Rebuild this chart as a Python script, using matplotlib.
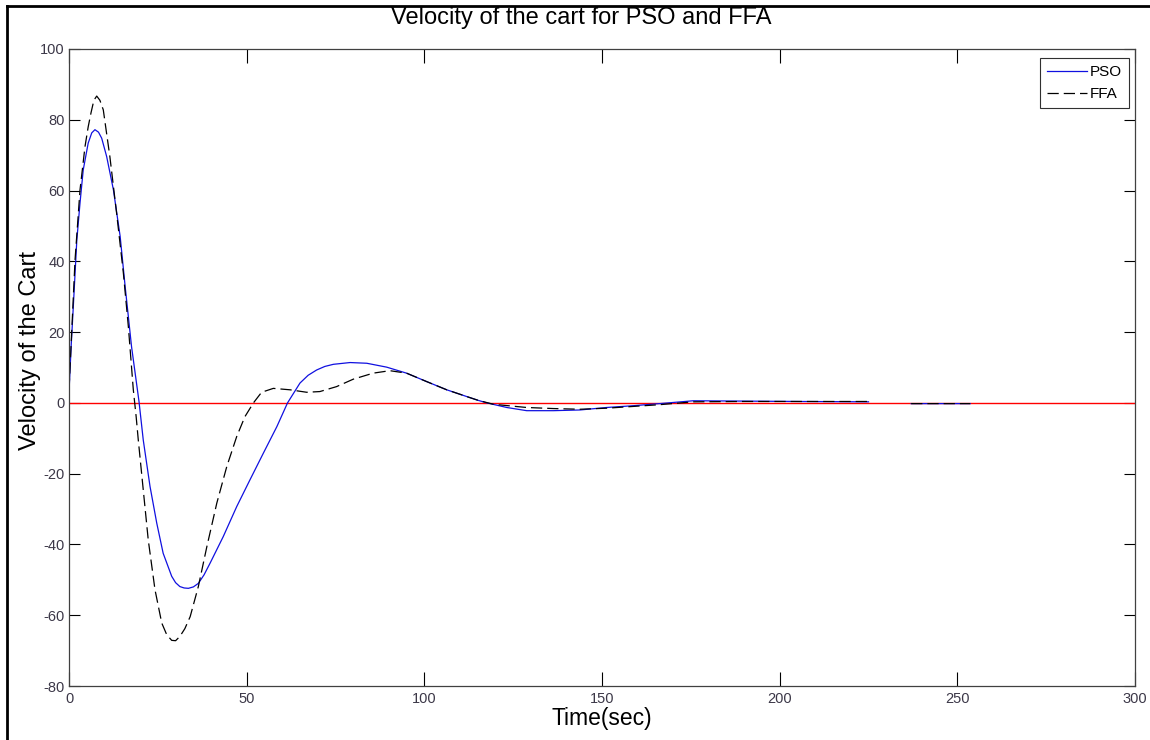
import numpy as np
import matplotlib
matplotlib.use("Agg")
import matplotlib.pyplot as plt
from matplotlib.lines import Line2D

plt.rcParams['font.family'] = ['Liberation Sans', 'DejaVu Sans']
plt.rcParams['axes.unicode_minus'] = False

# --- datos ---
pso_t = [0, 0.6, 1.2, 2.2, 3.1, 4.0, 5.4, 6.4, 7.3, 8.3, 9.2, 10.6, 12.5, 14.4,
         15.8, 17.6, 19.7, 20.9, 22.8, 24.7, 26.5, 28.9, 30.0, 31.2, 32.4, 33.6,
         35.0, 36.4, 38.0, 39.7, 43.4, 47.2, 50.9, 54.7, 58.5, 61.5, 65, 67.3,
         69.7, 72.0, 74.4, 79.1, 83.8, 89.4, 95, 100.7, 106.3, 111.9, 115.2,
         117.6, 123.2, 128.8, 136.3, 143.8, 151.3, 158.8, 166.3, 175.7, 190,
         205, 225, np.nan, 237, 253.6]
pso_v = [3, 15.9, 27, 46, 56.5, 65.8, 73.4, 76.3, 77.2, 76.5, 74.8, 69.6, 60.2, 47,
         32.9, 15.9, 0.4, -10.5, -23.6, -34, -42.5, -49, -50.8, -51.9, -52.3, -52.4,
         -52.0, -51, -48.6, -45.3, -37.8, -29.3, -21.8, -14.2, -6.7, 0, 5.6, 7.8,
         9.3, 10.3, 10.9, 11.4, 11.2, 10.1, 8.4, 6, 3.7, 1.8, 0.7,
         0, -1.3, -2.2, -2.2, -2, -1.3, -0.8, -0.2, 0.6, 0.5,
         0.4, 0.3, np.nan, -0.2, -0.2]

ffa_t = [0, 0.75, 1.7, 3.1, 4.5, 5.4, 6.2, 7.0, 7.8, 8.7, 9.65, 11.5, 13.4, 15.3,
         16.7, 18.1, 18.9, 19.5, 20.9, 22.3, 24.2, 26.1, 27.5, 28.9, 30.0, 31.2,
         32.6, 34.1, 36.4, 38.8, 41.6, 44.4, 47.2, 49.5, 51.9, 54.2, 57.5, 62.2,
         66.9, 70.6, 75.3, 80, 85.6, 90.3, 95, 100.7, 106.3, 111.9, 115.2, 119.5,
         128.8, 136.3, 143.8, 151.3, 158.8, 166.3, 175.7, 190, 205, 225.4,
         np.nan, 237, 253.6]
ffa_v = [3.7, 19.8, 40.4, 60.2, 72.4, 78.0, 82, 85.5, 86.7, 85.5, 82.8, 69.6, 53.6, 36.7,
         21.6, 3.7, -3.9, -10.5, -24.6, -38.7, -52.8, -62.2, -65.5, -67.1, -67.2, -66,
         -63.8, -60.4, -51.9, -40.6, -28.3, -18, -9.5, -3.9, 0, 3.0, 4.1, 3.7,
         3.0, 3.2, 4.6, 6.7, 8.4, 9.1, 8.4, 6, 3.7, 1.8, 0.7, -0.4,
         -1.3, -1.6, -1.8, -1.5, -1, -0.5, 0.3, 0.4, 0.4, 0.4,
         np.nan, -0.2, -0.2]

ref_t = [0, 300]
ref_v = [0, 0]

x_ticks = [0, 50, 100, 150, 200, 250, 300]
y_ticks = [-80, -60, -40, -20, 0, 20, 40, 60, 80, 100]

W, H = 1150, 740
fig = plt.figure(figsize=(W / 100, H / 100), dpi=100)
ax = fig.add_axes([69 / W, 1 - 686 / H, (1135 - 69) / W, (686 - 49) / H])

ax.plot(ref_t, ref_v, color='#ff0000', lw=1.0)
ax.plot(pso_t, pso_v, color='#1010e0', lw=0.9, label='PSO')
ax.plot(ffa_t, ffa_v, color='black', lw=0.9, dashes=(9, 4), label='FFA')

ax.set_xlim(0, 300)
ax.set_ylim(-80, 100)
ax.set_xticks(x_ticks)
ax.set_yticks(y_ticks)

lab_col = '#3c3848'
ax.tick_params(axis='x', direction='in', length=10, width=0.8, top=True,
               labelsize=10.5, labelcolor=lab_col, pad=4)
ax.tick_params(axis='y', direction='in', length=8, width=0.8, right=True,
               labelsize=10.5, labelcolor=lab_col, pad=3)
for s in ax.spines.values():
    s.set_color('#404040')
    s.set_linewidth(0.9)

leg = ax.legend(loc='upper right', bbox_to_anchor=(1129 / W, 1 - 58 / H),
                bbox_transform=fig.transFigure, fancybox=False, framealpha=1,
                edgecolor='#303030', fontsize=11, handlelength=2.6,
                handletextpad=0.2, borderpad=0.45, labelspacing=0.55,
                borderaxespad=0)
leg.get_frame().set_linewidth(0.8)

fig.text(581 / W, 1 - 18 / H, 'Velocity of the cart for PSO and FFA',
         ha='center', va='center', fontsize=17)
fig.text(602 / W, 1 - 719 / H, 'Time(sec)', ha='center', va='center', fontsize=16.5)
fig.text(30 / W, 1 - 350 / H, 'Velocity of the Cart', ha='center', va='center',
         rotation=90, fontsize=17)

# marco exterior (izquierda y arriba)
fig.add_artist(Line2D([7 / W, 7 / W], [0, 1 - 6 / H], transform=fig.transFigure,
                      color='black', lw=2))
fig.add_artist(Line2D([7 / W, 1], [1 - 6 / H, 1 - 6 / H], transform=fig.transFigure,
                      color='black', lw=2))

fig.savefig('out.png', dpi=100)
